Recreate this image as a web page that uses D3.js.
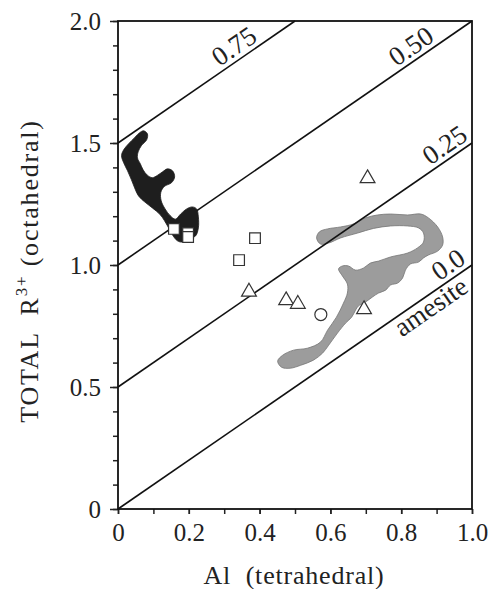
<!DOCTYPE html>
<html>
<head>
<meta charset="utf-8">
<script src="https://cdn.jsdelivr.net/npm/d3@7"></script>
<style>
  body { margin: 0; background: #fff; }
  svg text { font-family: "Liberation Serif", serif; fill: #222; }
</style>
</head>
<body>
<div id="chart"></div>
<script>
// DATA
// reference lines R3+ = Al + intercept, labelled by the vacancy value
const lineIntercepts = [0, 0.5, 1.0, 1.5];
const lineLabels = ["0.0", "0.25", "0.50", "0.75"];

const squares = [[0.158, 1.148], [0.198, 1.130], [0.198, 1.115], [0.387, 1.110], [0.342, 1.020]];
const triangles = [[0.370, 0.890], [0.475, 0.855], [0.508, 0.840], [0.695, 0.818], [0.705, 1.355]];
const circles = [[0.573, 0.797]];

// outline of the dark (black) field
const darkField = [
  [0.072, 1.550], [0.083, 1.538], [0.081, 1.513], [0.066, 1.489], [0.057, 1.464], [0.055, 1.439],
  [0.063, 1.415], [0.071, 1.390], [0.083, 1.368], [0.097, 1.358], [0.112, 1.368], [0.126, 1.382],
  [0.140, 1.394], [0.154, 1.386], [0.160, 1.361], [0.151, 1.337], [0.131, 1.322], [0.121, 1.298],
  [0.122, 1.263], [0.133, 1.230], [0.147, 1.203], [0.162, 1.188], [0.177, 1.209], [0.194, 1.230],
  [0.210, 1.238], [0.222, 1.230], [0.227, 1.197], [0.227, 1.152], [0.219, 1.119], [0.199, 1.107],
  [0.182, 1.094], [0.168, 1.099], [0.154, 1.123], [0.140, 1.160], [0.120, 1.205], [0.097, 1.234],
  [0.075, 1.259], [0.058, 1.283], [0.047, 1.316], [0.038, 1.349], [0.027, 1.386], [0.016, 1.419],
  [0.010, 1.448], [0.016, 1.472], [0.030, 1.497], [0.047, 1.522], [0.061, 1.542]
];

// outline of the grey field
const grayField = [
  [0.561, 1.111], [0.569, 1.136], [0.592, 1.148], [0.629, 1.156], [0.665, 1.168], [0.699, 1.193],
  [0.733, 1.205], [0.770, 1.209], [0.818, 1.205], [0.855, 1.209], [0.877, 1.193], [0.903, 1.156],
  [0.917, 1.115], [0.917, 1.082], [0.903, 1.057], [0.877, 1.041], [0.863, 1.029], [0.849, 1.012],
  [0.826, 1.004], [0.812, 0.979], [0.804, 0.947], [0.790, 0.926], [0.770, 0.918], [0.756, 0.897],
  [0.736, 0.885], [0.719, 0.869], [0.699, 0.848], [0.679, 0.832], [0.671, 0.815], [0.660, 0.786],
  [0.643, 0.762], [0.620, 0.721], [0.595, 0.671], [0.578, 0.639], [0.552, 0.610], [0.516, 0.589],
  [0.487, 0.577], [0.462, 0.581], [0.451, 0.606], [0.465, 0.630], [0.496, 0.651], [0.535, 0.659],
  [0.572, 0.684], [0.592, 0.733], [0.617, 0.786], [0.637, 0.844], [0.648, 0.885], [0.648, 0.922],
  [0.634, 0.955], [0.623, 0.984], [0.634, 0.996], [0.651, 0.996], [0.671, 0.979], [0.694, 0.988],
  [0.713, 1.008], [0.736, 1.016], [0.770, 1.033], [0.818, 1.049], [0.846, 1.070], [0.863, 1.094],
  [0.863, 1.131], [0.849, 1.152], [0.818, 1.160], [0.770, 1.160], [0.722, 1.150], [0.677, 1.131],
  [0.629, 1.111], [0.595, 1.090], [0.572, 1.086]
];

const xTicks = [0, 0.2, 0.4, 0.6, 0.8, 1.0];
const yTicks = [0, 0.5, 1.0, 1.5, 2.0];

// MARGIN CONVENTIONS
const margin = { top: 21, right: 17, bottom: 80, left: 118 };
const outerWidth = 489;
const outerHeight = 589;
const width = outerWidth - margin.left - margin.right;
const height = outerHeight - margin.top - margin.bottom;

const svg = d3.select("#chart").append("svg")
  .attr("width", outerWidth)
  .attr("height", outerHeight)
  .attr("font-family", "Liberation Serif, serif");

const g = svg.append("g")
  .attr("transform", `translate(${margin.left}, ${margin.top})`);

// scales
const x = d3.scaleLinear().domain([0, 1]).range([0, width]);
const y = d3.scaleLinear().domain([0, 2]).range([height, 0]);

const fmt = d => d === 0 ? "0" : d3.format(".1f")(d);

// minor ticks every 0.1
g.append("g")
  .attr("transform", `translate(0, ${height})`)
  .call(d3.axisBottom(x).tickValues(d3.range(0, 1.01, 0.1)).tickSize(5).tickSizeOuter(0).tickFormat(""))
  .call(a => a.select(".domain").remove());
g.append("g")
  .call(d3.axisLeft(y).tickValues(d3.range(0, 2.01, 0.1)).tickSize(5).tickSizeOuter(0).tickFormat(""))
  .call(a => a.select(".domain").remove());

// labelled axes
const xAxis = g.append("g")
  .attr("transform", `translate(0, ${height})`)
  .call(d3.axisBottom(x).tickValues(xTicks).tickSize(5).tickPadding(9).tickSizeOuter(0).tickFormat(fmt));
const yAxis = g.append("g")
  .call(d3.axisLeft(y).tickValues(yTicks).tickSize(8).tickPadding(9).tickSizeOuter(0).tickFormat(fmt));

[xAxis, yAxis].forEach(a => {
  a.attr("font-family", null);
  a.selectAll("text").style("font-size", "25px").attr("fill", "#222");
  a.select(".domain").remove();
});
g.selectAll(".tick line").attr("stroke", "#222").attr("stroke-width", 1.5);

// grey field under the lines
const blob = d3.line()
  .x(d => x(d[0]))
  .y(d => y(d[1]))
  .curve(d3.curveCatmullRomClosed.alpha(0.5));

g.append("path")
  .attr("d", blob(grayField))
  .attr("fill", "#9c9c9c")
  .attr("stroke", "#757575")
  .attr("stroke-width", 0.8);

// diagonal reference lines
lineIntercepts.forEach(b => {
  const x1 = Math.min(1, 2 - b);
  g.append("line")
    .attr("x1", x(0)).attr("y1", y(b))
    .attr("x2", x(x1)).attr("y2", y(x1 + b))
    .attr("stroke", "#111")
    .attr("stroke-width", 1.6);
});

// line labels, rotated along the lines
const angle = Math.atan2(y(0) - y(1), x(1) - x(0)) * 180 / Math.PI;
const labelAt = [0.955, 0.945, 0.85, 0.35];
lineLabels.forEach((t, i) => {
  const ax = labelAt[i];
  g.append("text")
    .attr("transform", `translate(${x(ax)}, ${y(ax + lineIntercepts[i])}) rotate(${-angle})`)
    .attr("text-anchor", "middle")
    .attr("y", -5)
    .style("font-size", "27px")
    .text(t);
});
g.append("text")
  .attr("transform", `translate(${x(0.866)}, ${y(0.866)}) rotate(${-angle})`)
  .attr("text-anchor", "middle")
  .attr("y", 20)
  .style("font-size", "27px")
  .text("amesite");

// dark field
g.append("path")
  .attr("d", blob(darkField))
  .attr("fill", "#1e1e1e")
  .attr("stroke", "#1e1e1e")
  .attr("stroke-width", 0.8);

// frame
g.append("rect")
  .attr("width", width)
  .attr("height", height)
  .attr("fill", "none")
  .attr("stroke", "#111")
  .attr("stroke-width", 1.8);

// points
g.selectAll(".sq").data(squares).join("path")
  .attr("class", "sq")
  .attr("transform", d => `translate(${x(d[0])}, ${y(d[1])})`)
  .attr("d", d3.symbol(d3.symbolSquare, 115)())
  .attr("fill", "#fff")
  .attr("stroke", "#333")
  .attr("stroke-width", 1.2);

g.selectAll(".tri").data(triangles).join("path")
  .attr("class", "tri")
  .attr("transform", d => `translate(${x(d[0])}, ${y(d[1])})`)
  .attr("d", d3.symbol(d3.symbolTriangle, 95)())
  .attr("fill", "#fff")
  .attr("stroke", "#333")
  .attr("stroke-width", 1.2);

g.selectAll(".circ").data(circles).join("circle")
  .attr("class", "circ")
  .attr("cx", d => x(d[0]))
  .attr("cy", d => y(d[1]))
  .attr("r", 6)
  .attr("fill", "#fff")
  .attr("stroke", "#333")
  .attr("stroke-width", 1.2);

// axis labels
g.append("text")
  .attr("text-anchor", "middle")
  .attr("x", width / 2 - 1)
  .attr("y", height + 75)
  .style("font-size", "26px")
  .style("letter-spacing", "0.8px")
  .style("white-space", "pre")
  .text("Al  (tetrahedral)");

const yLabel = g.append("text")
  .attr("text-anchor", "middle")
  .attr("transform", `translate(${-margin.left + 38}, ${height / 2 + 6}) rotate(-90)`)
  .style("font-size", "26px")
  .style("letter-spacing", "1.8px")
  .style("white-space", "pre");
yLabel.append("tspan").text("TOTAL  R");
yLabel.append("tspan").attr("dy", -11).style("font-size", "17px").text("3+");
yLabel.append("tspan").attr("dy", 11).text(" (octahedral)");
</script>
</body>
</html>
